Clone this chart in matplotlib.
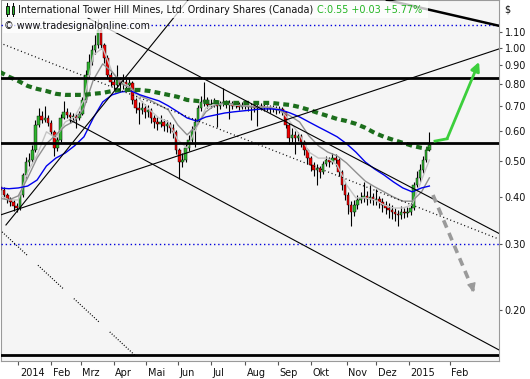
import matplotlib
matplotlib.use("Agg")
import matplotlib.pyplot as plt
from matplotlib.patches import Rectangle
from matplotlib.ticker import NullLocator
from matplotlib.transforms import ScaledTranslation

# price data, one candle per two trading days; x = trading day index (0 = 2 Jan 2014)
bar_idx = list(range(-11, 264, 2))
opens = [.425, .418, .405, .395, .388, .379, .374, .405, .458, .496,
         .502, .534, .623, .658, .642, .650, .630, .597, .541, .568,
         .650, .675, .662, .654, .658, .650, .666, .726, .847, .917,
         .987, 1.018, 1.116, 1.018, .940, .847, .811, .796, .821, .801,
         .811, .796, .806, .726, .691, .683, .691, .675, .683, .650,
         .634, .627, .634, .619, .627, .612, .597, .534, .496, .502,
         .541, .568, .604, .634, .691, .717, .726, .704, .708, .713,
         .700, .708, .717, .704, .708, .700, .708, .696, .700, .704,
         .696, .700, .691, .696, .700, .691, .696, .687, .691, .683,
         .687, .675, .623, .575, .586, .575, .582, .561, .534, .508,
         .487, .472, .478, .466, .490, .502, .496, .508, .502, .466,
         .431, .405, .381, .365, .381, .393, .398, .403, .395, .400,
         .393, .395, .388, .381, .374, .370, .365, .361, .358, .365,
         .363, .365, .374, .431, .450, .472, .502, .534]
closes = [.418, .405, .395, .388, .379, .374, .405, .458, .496, .502,
          .534, .623, .658, .642, .650, .630, .597, .541, .568, .650,
          .675, .662, .654, .658, .650, .666, .726, .847, .917, .987,
          1.018, 1.116, 1.018, .940, .847, .811, .796, .821, .801, .811,
          .796, .806, .726, .691, .683, .691, .675, .683, .650, .634,
          .627, .634, .619, .627, .612, .597, .534, .496, .502, .541,
          .568, .604, .634, .691, .717, .726, .704, .708, .713, .700,
          .708, .717, .704, .708, .700, .708, .696, .700, .704, .696,
          .700, .691, .696, .700, .691, .696, .687, .691, .683, .687,
          .675, .623, .575, .586, .575, .582, .561, .534, .508, .487,
          .472, .478, .466, .490, .502, .496, .508, .502, .466, .431,
          .405, .381, .365, .381, .393, .398, .403, .395, .400, .393,
          .395, .388, .381, .374, .370, .365, .361, .358, .365, .363,
          .365, .374, .431, .450, .472, .502, .534, .551]
highs = [.432, .425, .410, .400, .393, .385, .412, .465, .510, .525,
         .550, .640, .690, .680, .700, .662, .640, .605, .580, .665,
         .720, .690, .675, .672, .668, .680, .740, .870, .960, 1.02,
         1.08, 1.19, 1.14, 1.03, .955, .860, .830, .900, .835, .850,
         .825, .830, .815, .735, .715, .720, .710, .705, .690, .660,
         .652, .660, .645, .640, .635, .625, .605, .540, .525, .555,
         .585, .620, .650, .705, .745, .810, .740, .730, .735, .725,
         .722, .780, .728, .725, .720, .722, .718, .715, .722, .716,
         .712, .710, .708, .714, .708, .706, .704, .703, .698, .700,
         .695, .680, .630, .610, .600, .598, .590, .568, .540, .515,
         .495, .490, .485, .500, .515, .512, .525, .520, .508, .472,
         .440, .412, .390, .392, .405, .412, .440, .415, .430, .410,
         .420, .402, .398, .390, .385, .380, .375, .370, .378, .374,
         .376, .385, .440, .470, .490, .515, .545, .595]
lows = [.410, .398, .386, .378, .368, .364, .370, .400, .450, .485,
        .495, .528, .615, .630, .635, .618, .585, .515, .530, .560,
        .645, .650, .630, .640, .611, .642, .660, .715, .830, .900,
        .960, 1.00, .990, .910, .830, .790, .770, .780, .760, .775,
        .765, .770, .710, .670, .625, .668, .650, .655, .630, .610,
        .605, .615, .600, .598, .592, .575, .520, .448, .480, .495,
        .530, .560, .545, .625, .680, .700, .690, .690, .695, .615,
        .688, .698, .690, .645, .685, .690, .682, .685, .688, .680,
        .640, .676, .620, .684, .680, .680, .672, .676, .668, .672,
        .660, .610, .555, .560, .520, .565, .545, .518, .490, .470,
        .455, .432, .450, .460, .485, .480, .490, .485, .455, .418,
        .392, .360, .334, .355, .372, .385, .388, .382, .385, .380,
        .382, .374, .366, .360, .352, .350, .345, .334, .350, .352,
        .354, .358, .370, .425, .440, .465, .495, .530]

# moving averages, read every 6 trading days
ma_idx = [-12, -6, 0, 6, 12, 18, 24, 30, 36, 42, 48, 54, 60, 66, 72, 78,
          84, 90, 96, 102, 108, 114, 120, 126, 132, 138, 144, 150, 156, 162,
          168, 174, 180, 186, 192, 198, 204, 210, 216, 222, 228, 234, 240,
          246, 252, 258, 263]
ma200 = [.863, .837, .816, .791, .777, .767, .754, .749, .749, .749, .754, .758,
         .767, .772, .772, .772, .767, .758, .749, .740, .726, .722, .717, .717,
         .713, .713, .713, .713, .713, .713, .708, .704, .695, .683, .670, .658,
         .646, .638, .627, .612, .593, .579, .568, .558, .548, .541, .537]
ma50 = [.423, .421, .423, .428, .444, .484, .508, .524, .548, .579, .650, .717,
        .749, .763, .767, .749, .735, .722, .700, .675, .650, .638, .654, .662,
        .670, .675, .679, .683, .687, .687, .683, .670, .654, .634, .615, .597,
        .579, .555, .527, .496, .475, .458, .439, .423, .413, .423, .428]
ma20 = [.397, .393, .403, .450, .508, .555, .586, .619, .638, .691, .821, .906,
        .863, .801, .781, .744, .726, .704, .683, .623, .586, .619, .675, .704,
        .713, .708, .700, .695, .695, .691, .679, .658, .634, .582, .548, .527,
        .515, .493, .466, .441, .426, .413, .400, .390, .390, .413, .450]
ma10 = [.405, .393, .393, .466, .518, .597, .575, .634, .654, .726, .957, .999,
        .863, .811, .781, .726, .683, .650, .634, .568, .541, .612, .691, .708,
        .708, .704, .700, .700, .695, .695, .683, .634, .586, .527, .508, .508,
        .487, .431, .398, .398, .393, .381, .374, .374, .381, .444, .502]

month_idx = [0, 21, 40, 61, 82, 102, 123, 145, 166, 187, 210, 229, 250, 276]
month_labels = ['2014', 'Feb', 'Mrz', 'Apr', 'Mai', 'Jun', 'Jul', 'Aug',
                'Sep', 'Okt', 'Nov', 'Dez', '2015', 'Feb']
price_ticks = [0.2, 0.3, 0.4, 0.5, 0.6, 0.7, 0.8, 0.9, 1.0, 1.1]

# drawing tools on the chart (trading day index, price)
h_levels = [0.830, 0.5575, 0.152]
dotted_levels = [1.150, 0.300]
trend_thin = [((-7.9, 0.337), (108.6, 1.341)),
              ((-11.7, 0.358), (307.5, 0.993)),
              ((44.6, 1.200), (307.5, 0.320)),
              ((33.1, 0.642), (307.5, 0.1565))]
trend_thick = [((235.9, 1.341), (308.2, 1.143))]
trend_dotted = [((-11.7, 1.030), (307.5, 0.309)),
                ((-10.4, 0.323), (84.2, 0.139))]
up_arrow_x = [266.6, 274.3, 294.8]
up_arrow_y = [0.564, 0.572, 0.917]
down_arrow_x = [265.3, 291.5]
down_arrow_y = [0.405, 0.223]

W, H = 530, 379
fig = plt.figure(figsize=(W / 100, H / 100), dpi=100)
fig.patch.set_facecolor('white')
ax = fig.add_axes([1 / W, 18 / H, 498 / W, 361 / H])
ax.set_facecolor('#f5f5f5')
ax.set_yscale('log')
ax.set_xlim(-11.07, 307.55)
ax.set_ylim(0.1462, 1.341)

# candles
colors = ['#2fb42f' if c >= o else '#ee0000' for o, c in zip(opens, closes)]
ax.vlines(bar_idx, lows, highs, color='black', lw=0.8, zorder=2)
bottoms = [min(o, c) for o, c in zip(opens, closes)]
heights = [max(abs(c - o), 0.002) for o, c in zip(opens, closes)]
ax.bar(bar_idx, heights, bottom=bottoms, width=1.6, color=colors,
       edgecolor='black', linewidth=0.3, zorder=3)

# moving averages
ax.plot(ma_idx, ma10, color='#c4c4c4', lw=1.0, zorder=4)
ax.plot(ma_idx, ma20, color='#8f8f8f', lw=1.0, zorder=4)
ax.plot(ma_idx, ma50, color='#0000ee', lw=1.0, zorder=4)
ax.plot(ma_idx, ma200, color='#1c6e1c', lw=3.0, ls=(0, (1.4, 1.0)), zorder=4)

# levels and trendlines
for lv in h_levels:
    ax.axhline(lv, color='black', lw=2.0, zorder=5)
for lv in dotted_levels:
    ax.axhline(lv, color='#0000dd', lw=1.0, ls=(0, (1, 2)), zorder=5)
for (x0, y0), (x1, y1) in trend_thin:
    ax.plot([x0, x1], [y0, y1], color='black', lw=0.8, zorder=5)
for (x0, y0), (x1, y1) in trend_thick:
    ax.plot([x0, x1], [y0, y1], color='black', lw=1.8, zorder=5)
(x0, y0), (x1, y1) = trend_dotted[0]
ax.plot([x0, x1], [y0, y1], color='black', lw=0.9, ls=(0, (0.8, 2.2)), zorder=5)
(x0, y0), (x1, y1) = trend_dotted[1]
ax.plot([x0, x1], [y0, y1], color='black', lw=0.9,
        ls=(0, [0.8, 1.4] * 12 + [0.8, 12]), zorder=5)

# forecast arrows
ax.plot(up_arrow_x[:2], up_arrow_y[:2], color='#3ccf3c', lw=2, zorder=6)
ax.annotate('', xy=(up_arrow_x[2], up_arrow_y[2]), xytext=(up_arrow_x[1], up_arrow_y[1]),
            arrowprops=dict(arrowstyle='-|>', color='#3ccf3c', lw=2, mutation_scale=13,
                            shrinkA=0, shrinkB=0), zorder=6)
ax.plot(down_arrow_x, down_arrow_y, color='#9a9a9a', lw=2.6, ls=(0, (2.2, 1.6)), zorder=6)
ax.annotate('', xy=(down_arrow_x[1], down_arrow_y[1]),
            xytext=(down_arrow_x[1] - 1.5, down_arrow_y[1] * 1.05),
            arrowprops=dict(arrowstyle='-|>', color='#9a9a9a', lw=1, mutation_scale=13,
                            shrinkA=0, shrinkB=0), zorder=6)

# axes styling
for s in ax.spines.values():
    s.set_color('#9a9a9a')
    s.set_linewidth(0.8)
ax.yaxis.tick_right()
ax.set_yticks(price_ticks)
ax.set_yticklabels([f'{v:.2f}' for v in price_ticks])
ax.yaxis.set_minor_locator(NullLocator())
ax.tick_params(axis='y', direction='out', length=2.5, width=0.8, color='#555555',
               pad=1.5, labelsize=7, labelcolor='#111111')
ax.set_xticks(month_idx)
ax.set_xticklabels(month_labels)
ax.tick_params(axis='x', direction='out', length=3, width=0.8, color='#555555',
               pad=2, labelsize=7, labelcolor='#111111')
for lbl in ax.get_xticklabels():
    lbl.set_horizontalalignment('left')
    lbl.set_transform(lbl.get_transform() + ScaledTranslation(0.015, 0, fig.dpi_scale_trans))

# header
fig.add_artist(Rectangle((2 / W, 1 - 18 / H), 426 / W, 17 / H, transform=fig.transFigure,
                         facecolor='white', edgecolor='none', alpha=0.75, zorder=1))
fig.add_artist(Rectangle((3 / W, 1 - 33 / H), 147 / W, 14 / H, transform=fig.transFigure,
                         facecolor='white', edgecolor='none', alpha=0.75, zorder=1))
for cx in (6, 11.5):
    fig.add_artist(plt.Line2D([(cx + 1.2) / W] * 2, [1 - 16 / H, 1 - 3 / H],
                              transform=fig.transFigure, color='black', lw=0.7, zorder=2))
    fig.add_artist(Rectangle((cx / W, 1 - 13.5 / H), 2.6 / W, 8 / H, transform=fig.transFigure,
                             facecolor='#2fb42f', edgecolor='black', lw=0.6, zorder=2))
fig.text(18 / W, 1 - 10 / H, 'International Tower Hill Mines, Ltd. Ordinary Shares (Canada)',
         fontsize=6.9, va='center', ha='left', color='#111111')
fig.text(317 / W, 1 - 10 / H, 'C:0.55 +0.03 +5.77%', fontsize=6.9, va='center',
         ha='left', color='#22b422')
fig.text(4 / W, 1 - 26 / H, '\u00a9 www.tradesignalonline.com', fontsize=6.9,
         va='center', ha='left', color='#111111')
fig.text(504 / W, 1 - 10 / H, '$', fontsize=7, va='center', ha='left', color='#111111')

fig.savefig('out.png', dpi=100)
